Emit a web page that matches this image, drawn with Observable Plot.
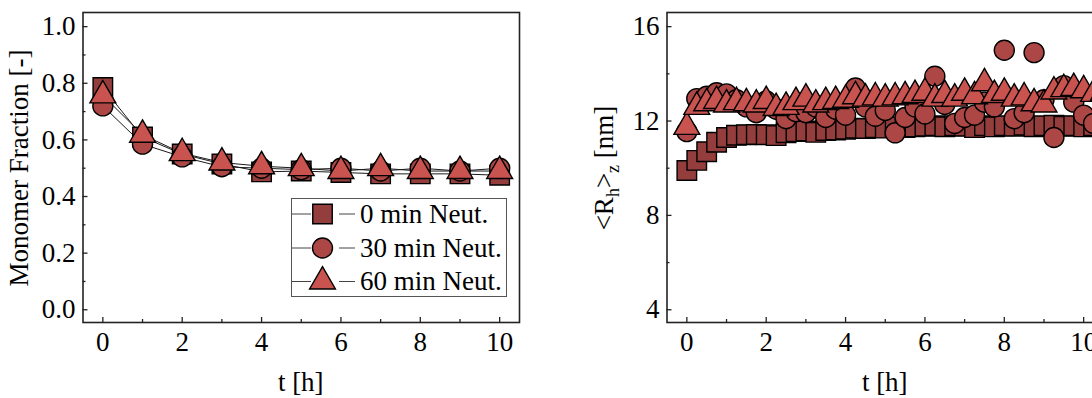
<!DOCTYPE html>
<html><head><meta charset="utf-8">
<script src="https://cdn.jsdelivr.net/npm/d3@7"></script>
<script src="https://cdn.jsdelivr.net/npm/@observablehq/plot@0.6"></script>
<style>
html,body{margin:0;padding:0;background:#fff;overflow:hidden;}
#wrap{display:flex;width:1092px;height:398px;overflow:hidden;}
#wrap svg{flex:none;display:block;}
</style></head><body><div id="wrap"></div>
<script>
// ---------- data ----------
const tHours = [0,1,2,3,4,5,6,7,8,9,10];
const mf0  = [0.785,0.61,0.55,0.515,0.487,0.49,0.485,0.48,0.48,0.48,0.475];
const mf30 = [0.72,0.585,0.54,0.505,0.50,0.495,0.50,0.49,0.50,0.49,0.50];
const mf60 = [0.757,0.618,0.553,0.52,0.507,0.50,0.49,0.50,0.49,0.49,0.49];

const tFine = [0,0.25,0.5,0.75,1,1.25,1.5,1.75,2,2.25,2.5,2.75,3,3.25,3.5,3.75,4,4.25,4.5,4.75,5,5.25,5.5,5.75,6,6.25,6.5,6.75,7,7.25,7.5,7.75,8,8.25,8.5,8.75,9,9.25,9.5,9.75,10,10.25,10.5];
const rh0  = [9.9,10.33,10.7,11.1,11.3,11.4,11.42,11.43,11.42,11.38,11.5,11.55,11.58,11.52,11.6,11.62,11.65,11.7,11.68,11.72,11.7,11.75,11.72,11.75,11.78,11.8,11.76,11.8,11.78,11.72,11.8,11.75,11.8,11.78,11.82,11.76,11.8,11.82,11.78,11.8,11.75,11.8,11.78];
const rh30 = [11.55,12.95,13.05,13.2,13.15,12.9,12.6,12.35,12.85,12.5,12.1,12.4,12.35,12.6,12.15,12.5,12.25,13.4,12.6,12.2,12.45,11.5,12.15,12.6,12.3,13.9,12.7,11.9,12.15,12.25,12.8,12.6,15.0,12.1,12.35,14.9,12.9,11.3,13.5,12.8,12.25,11.9,12.4];
const rh60 = [11.75,12.6,12.75,12.85,12.7,12.8,12.75,12.7,12.85,12.55,12.6,12.8,12.95,12.7,12.8,12.85,12.9,13.05,12.95,13.0,12.95,13.0,13.05,13.1,13.2,12.95,13.1,12.95,13.2,13.05,13.6,13.1,13.2,12.95,13.0,12.75,12.7,13.25,13.35,13.4,13.3,13.15,13.2];

const xTicks = [0,2,4,6,8,10];
const xMinor = [1,3,5,7,9];
const mfTicks = [0,0.2,0.4,0.6,0.8,1.0];
const mfMinor = [0.1,0.3,0.5,0.7,0.9];
const rhTicks = [4,8,12,16];
const rhMinor = [6,10,14];

const seriesNames   = ["0 min Neut.","30 min Neut.","60 min Neut."];
const seriesSymbols = ["square","circle","triangle"];
const seriesFills   = ["#933d3c","#ad4745","#c9534f"];
const seriesR       = [11,10,9.6];

// ---------- layout ----------
const W = 584, H = 398, ML = 82.5, MR = 65, MT = 12, MB = 76;
const FW = W - ML - MR, FH = H - MT - MB;
const FONT = "'Liberation Serif','Times New Roman',serif";

function rows(ts, vs){ return ts.map((t,i)=>({t, v: vs[i]})); }

function makePanel({yDomain, yTicks, yMinor, yFormat, sets, withLines}) {
  const marks = [];
  if (withLines) sets.forEach(s => marks.push(Plot.line(s, {x:"t", y:"v", stroke:"#1a1a1a", strokeWidth:1})));
  sets.forEach((s,i) => marks.push(Plot.dot(s, {x:"t", y:"v", symbol: seriesSymbols[i], r: seriesR[i],
      fill: seriesFills[i], stroke:"#000", strokeWidth:1.4})));
  marks.push(
    Plot.tickX(xTicks, {x: d=>d, insetTop: FH-5, stroke:"#222", strokeWidth:1.3}),
    Plot.tickX(xMinor, {x: d=>d, insetTop: FH-3, stroke:"#222", strokeWidth:1.3}),
    Plot.tickY(yTicks, {y: d=>d, insetRight: FW-5, stroke:"#222", strokeWidth:1.3}),
    Plot.tickY(yMinor, {y: d=>d, insetRight: FW-3, stroke:"#222", strokeWidth:1.3}),
    Plot.axisX(xTicks, {tickSize:0, tickPadding:9, label:null}),
    Plot.axisY(yTicks, {tickSize:0, tickPadding:7.5, tickFormat: yFormat, label:null}),
    Plot.frame({stroke:"#222", strokeWidth:1.6})
  );
  return Plot.plot({
    width: W, height: H, marginLeft: ML, marginRight: MR, marginTop: MT, marginBottom: MB,
    style: {fontFamily: FONT, fontSize: "27px", color: "#000", background: "#fff"},
    x: {domain: [-0.5, 10.5]},
    y: {domain: yDomain},
    marks
  });
}

const wrap = document.getElementById("wrap");

// left panel
const left = makePanel({
  yDomain: [-0.045, 1.05], yTicks: mfTicks, yMinor: mfMinor, yFormat: d3.format(".1f"),
  sets: [rows(tHours, mf0), rows(tHours, mf30), rows(tHours, mf60)], withLines: true
});
wrap.appendChild(left);

// right panel
const right = makePanel({
  yDomain: [3.46, 16.6], yTicks: rhTicks, yMinor: rhMinor, yFormat: d3.format("d"),
  sets: [rows(tFine, rh0), rows(tFine, rh30), rows(tFine, rh60)], withLines: false
});
wrap.appendChild(right);

// axis titles
function xTitle(svg){
  d3.select(svg).append("text").attr("x", ML + FW/2).attr("y", 391)
    .attr("text-anchor","middle").attr("fill","#000").text("t [h]");
}
xTitle(left); xTitle(right);

d3.select(left).append("text").attr("transform","translate(28,168) rotate(-90)")
  .attr("text-anchor","middle").attr("fill","#000").text("Monomer Fraction [-]");

const yl = d3.select(right).append("text").attr("transform","translate(29,168) rotate(-90)")
  .attr("text-anchor","middle").attr("fill","#000");
yl.append("tspan").text("<R");
yl.append("tspan").attr("font-size","18px").attr("dy",6).text("h");
yl.append("tspan").attr("dy",-6).text(">");
yl.append("tspan").attr("font-size","18px").attr("dy",6).text("z");
yl.append("tspan").attr("dy",-6).text(" [nm]");

// legend (left panel)
const lg = d3.select(left).append("g").attr("text-anchor","start");
lg.append("rect").attr("x",291.5).attr("y",198.5).attr("width",215).attr("height",98)
  .attr("fill","#fff").attr("stroke","#555").attr("stroke-width",1);
const legY = [214, 248, 281.5];
const symTypes = [d3.symbolSquare, d3.symbolCircle, d3.symbolTriangle];
seriesNames.forEach((name,i)=>{
  const cy = legY[i];
  lg.append("line").attr("x1",292).attr("x2",311).attr("y1",cy).attr("y2",cy).attr("stroke","#444").attr("stroke-width",1);
  lg.append("line").attr("x1",339).attr("x2",355).attr("y1",cy).attr("y2",cy).attr("stroke","#444").attr("stroke-width",1);
  lg.append("path").attr("transform",`translate(322.5,${cy})`)
    .attr("d", d3.symbol(symTypes[i], Math.PI*seriesR[i]*seriesR[i])())
    .attr("fill", seriesFills[i]).attr("stroke","#000").attr("stroke-width",1.4);
  lg.append("text").attr("x",360).attr("y",cy+8.5).attr("text-anchor","start").attr("fill","#000").text(name);
});
</script>
</body></html>
